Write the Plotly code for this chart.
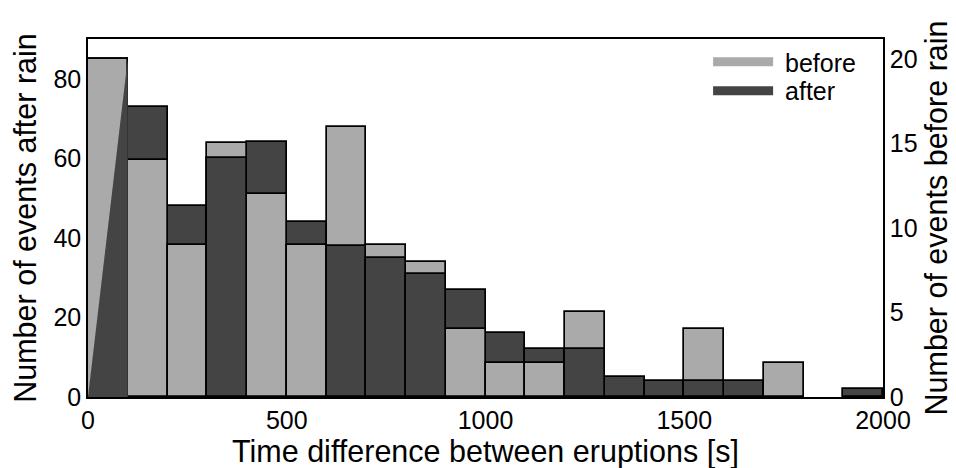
import plotly.graph_objects as go

# ---- data ----
bin_left = [0, 100, 200, 300, 400, 500, 600, 700, 800, 900,
            1000, 1100, 1200, 1300, 1400, 1500, 1600, 1700, 1800, 1900]
bin_width = 100
before = [20, 14, 9, 15, 12, 9, 16, 9, 8, 4, 2, 2, 5, 0, 0, 4, 0, 2, 0, 0]
after = [85, 73, 48, 60, 64, 44, 38, 35, 31, 27, 16, 12, 12, 5, 4, 4, 4, 0, 0, 2]
x_ticks = [0, 500, 1000, 1500, 2000]
left_ticks = [0, 20, 40, 60, 80]
right_ticks = [0, 5, 10, 15, 20]

LEFT_MAX = 90
RIGHT_MAX = 21.18
LIGHT = "#aaaaaa"
DARK = "#444444"
FONT = "Liberation Sans, Arial, Helvetica, sans-serif"

centers = [b + bin_width / 2 for b in bin_left]

# split "after" into bars drawn behind (taller) and in front (shorter) of "before"
after_back, after_front = [], []
for a, b in zip(after, before):
    if a == 0:
        after_back.append(None); after_front.append(None)
    elif a / LEFT_MAX >= b / RIGHT_MAX - 1e-3:
        after_back.append(a); after_front.append(None)
    else:
        after_back.append(None); after_front.append(a)
before_vals = [v if v > 0 else None for v in before]

bar_line = dict(color="black", width=1.7)

fig = go.Figure()
fig.add_trace(go.Bar(x=centers, y=after_back, width=bin_width, yaxis="y",
                     marker=dict(color=DARK, line=bar_line), showlegend=False,
                     hoverinfo="skip"))
fig.add_trace(go.Bar(x=centers, y=before_vals, width=bin_width, yaxis="y2",
                     marker=dict(color=LIGHT, line=bar_line), showlegend=False,
                     hoverinfo="skip"))
fig.add_trace(go.Bar(x=centers, y=after_front, width=bin_width, yaxis="y3",
                     marker=dict(color=DARK, line=bar_line), showlegend=False,
                     hoverinfo="skip"))
# rendering artefact in the first bin of the original: dark triangle over the light bar
tri_x = [bin_left[0], bin_left[0] + bin_width, bin_left[0] + bin_width, bin_left[0]]
tri_y = [0, after[0], 0, 0]
fig.add_trace(go.Scatter(x=tri_x, y=tri_y, yaxis="y3", mode="lines", fill="toself",
                         fillcolor=DARK, line=dict(width=0, color=DARK),
                         showlegend=False, hoverinfo="skip"))

# legend entries (one legend per row so the row spacing matches)
fig.add_trace(go.Scatter(x=[None], y=[None], mode="lines", name="\u00a0before",
                         line=dict(color=LIGHT, width=9), legend="legend"))
fig.add_trace(go.Scatter(x=[None], y=[None], mode="lines", name="\u00a0after",
                         line=dict(color=DARK, width=9), legend="legend2"))

leg_common = dict(x=0.78, xanchor="left", yanchor="top",
                  bgcolor="rgba(0,0,0,0)", font=dict(size=25), itemwidth=60)

fig.update_layout(
    width=956, height=468,
    margin=dict(l=80, r=81, t=31, b=79, autoexpand=False),
    paper_bgcolor="white", plot_bgcolor="white",
    barmode="overlay", bargap=0,
    font=dict(family=FONT, size=25, color="black"),
    showlegend=True,
    legend=dict(y=1.0, **leg_common),
    legend2=dict(y=0.919, **leg_common),
    xaxis=dict(range=[0, 2000], tickvals=x_ticks, ticks="", showgrid=False,
               zeroline=False, showline=True, linecolor="black", linewidth=1.6,
               mirror=True,
               title=dict(text="Time difference between eruptions [s]",
                          font=dict(size=30.5), standoff=4)),
    yaxis=dict(range=[0, LEFT_MAX], tickvals=left_ticks, ticks="", showgrid=False,
               zeroline=False, showline=True, linecolor="black", linewidth=1.6,
               title=dict(text="Number of events after rain", font=dict(size=30.5),
                          standoff=9)),
    yaxis2=dict(range=[0, RIGHT_MAX], tickvals=right_ticks, ticks="", showgrid=False,
                zeroline=False, showline=True, linecolor="black", linewidth=1.6,
                overlaying="y", side="right",
                title=dict(text="Number of events before rain", font=dict(size=30.5),
                           standoff=9)),
    yaxis3=dict(range=[0, LEFT_MAX], overlaying="y", visible=False),
)

fig.write_html("out.html")
